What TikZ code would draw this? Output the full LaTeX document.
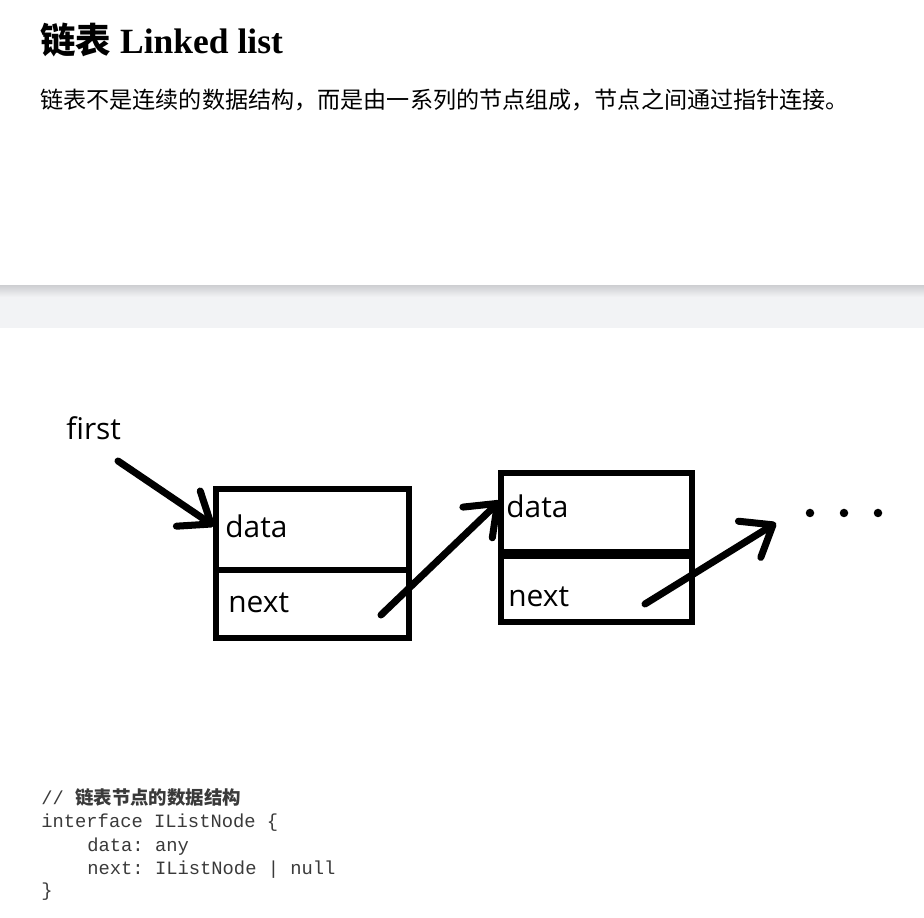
\documentclass[tikz,border=0pt]{standalone}
\usepackage{fontspec}
\setmainfont{Liberation Serif}
\setsansfont{Open Sans}
\setmonofont{Liberation Mono}
\newfontfamily\cjk{Noto Sans CJK SC}
\usetikzlibrary{arrows.meta,positioning}
\definecolor{bandgray}{HTML}{F2F3F5}
\definecolor{bandshadow}{HTML}{D0D1D4}
\definecolor{codegray}{HTML}{3A3A3A}
\tikzset{
    cell/.style={draw, line width=3.4pt, inner sep=0pt},
    field/.style={font=\sffamily\fontsize{17}{20}\selectfont, anchor=base west, inner sep=0pt},
    ptr/.style={line width=4pt, line cap=round,
                -{Straight Barb[length=5.5mm, width=8.5mm, line cap=round, line join=round]}},
    dot/.style={circle, fill, inner sep=0pt, minimum size=0.17cm},
    code/.style={font=\ttfamily\fontsize{10.7}{13}\selectfont, text=codegray, anchor=base west, inner sep=0pt},
}

\begin{document}
\begin{tikzpicture}[x=0.02cm, y=-0.02cm]
    \useasboundingbox (0,0) rectangle (924,918);

    % Heading
    \node[anchor=base west, inner sep=0pt, font=\fontsize{20.2}{24}\selectfont\bfseries] (title) at (40,54)
        {{\cjk 链表} Linked list};
    \node[anchor=base west, inner sep=0pt, font=\cjk\fontsize{13.15}{16}\selectfont] (intro) at (40,109)
        {链表不是连续的数据结构，而是由一系列的节点组成，节点之间通过指针连接。};

    % Separator band
    \fill[bandgray] (0,286) rectangle (924,328);
    \shade[top color=bandshadow, bottom color=bandgray] (0,286) rectangle (924,297);

    % First list node
    \node[cell, minimum width=3.86cm, minimum height=1.62cm] (data1) at (312.5,529.5) {};
    \node[cell, minimum width=3.86cm, minimum height=1.36cm] (next1) at (312.5,604) {};
    \node[field] (d1) at (225,538) {data};
    \node[field] (n1) at (228,613) {next};

    % Second list node
    \node[cell, minimum width=3.82cm, minimum height=1.58cm] (data2) at (596.5,512.5) {};
    \node[cell, minimum width=3.82cm, minimum height=1.32cm] (next2) at (596.5,589) {};
    \node[field] (d2) at (506,518) {data};
    \node[field] (n2) at (508,607) {next};

    % Pointers
    \node[field] (first) at (66,440) {first};
    \coordinate (f0) at (118,461);
    \coordinate (f1) at (214,526);
    \coordinate (p1) at (381,615);
    \coordinate (h2) at (500,501);
    \coordinate (p2) at (645,604);
    \coordinate (h3) at (776,523);
    \draw[ptr] (f0) -- (f1);
    \draw[ptr] (p1) -- (h2);
    \draw[ptr] (p2) -- (h3);

    % More nodes
    \foreach \i/\x in {1/810, 2/844, 3/878}
        \node[dot] (dot\i) at (\x,513) {};

    % Code
    \node[code] (c1) at (41,805) {// {\cjk\bfseries\fontsize{10.5}{13}\selectfont 链表节点的数据结构}};
    \node[code] (c2) at (41,828) {interface IListNode \{};
    \node[code] (c3) at (87,852) {data: any};
    \node[code] (c4) at (87,875) {next: IListNode | null};
    \node[code] (c5) at (41,897) {\}};
\end{tikzpicture}
\end{document}
